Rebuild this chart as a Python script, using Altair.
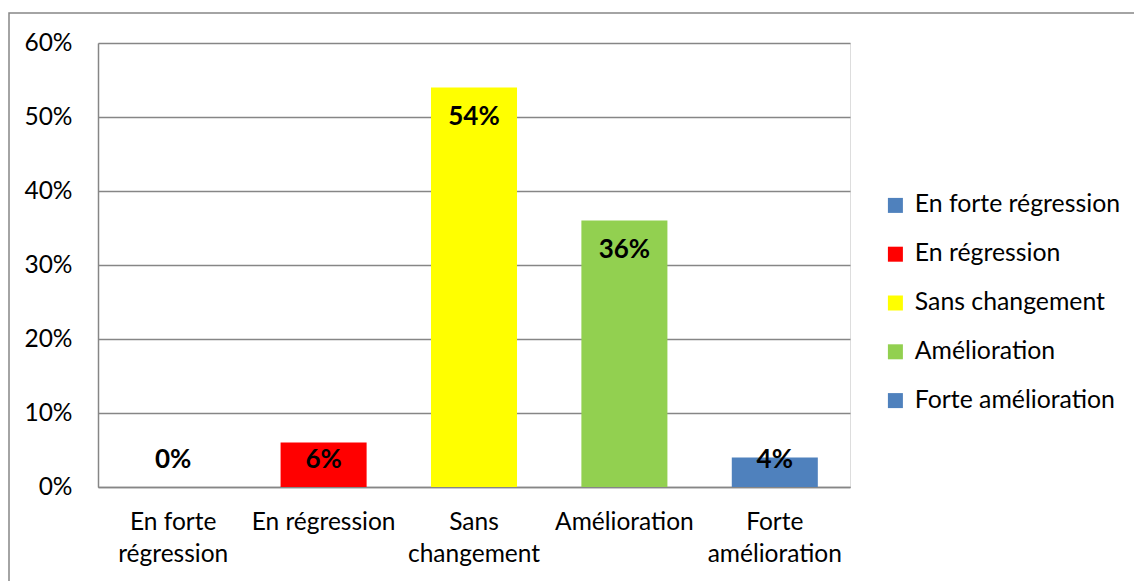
import json
import altair as alt
import pandas as pd

categories = ["En forte régression", "En régression", "Sans changement", "Amélioration", "Forte amélioration"]
values = [0.0, 0.06, 0.54, 0.36, 0.04]
axis_lines = [["En forte", "régression"], ["En régression"], ["Sans", "changement"], ["Amélioration"], ["Forte", "amélioration"]]
colors = ["#4F81BD", "#FF0000", "#FFFF00", "#92D050", "#4F81BD"]
y_ticks = [0, 0.1, 0.2, 0.3, 0.4, 0.5, 0.6]

FONT = "Lato"
df = pd.DataFrame({"cat": categories, "val": values})

expr = "''"
for c, lines in reversed(list(zip(categories, axis_lines))):
    expr = f"datum.value == {json.dumps(c)} ? {json.dumps(lines)} : ({expr})"

x_enc = alt.X("cat:N", sort=categories, title=None,
              scale=alt.Scale(paddingInner=0.428, paddingOuter=0.214),
              axis=alt.Axis(labelExpr=expr, labelAngle=0, labelFont=FONT, labelFontSize=24.5,
                            labelColor="#000000", labelLineHeight=32, labelPadding=23,
                            labelBaseline="top", ticks=False, domainColor="#868686",
                            domainWidth=1.5, grid=False, labelLimit=300))

bars = alt.Chart(df).mark_bar().encode(
    x=x_enc,
    y=alt.Y("val:Q", title=None, scale=alt.Scale(domain=[0, 0.6]),
            axis=alt.Axis(values=y_ticks, format=".0%", labelFont=FONT, labelFontSize=24.5,
                          labelColor="#000000", labelPadding=26, ticks=False,
                          domainColor="#868686", domainWidth=1.5, gridColor="#868686",
                          gridWidth=1.5)),
    color=alt.Color("cat:N", sort=categories, title=None,
                    scale=alt.Scale(domain=categories, range=colors),
                    legend=alt.Legend(orient="none", legendX=785, legendY=150, padding=0,
                                      symbolType="square", symbolSize=225, symbolStrokeWidth=0,
                                      labelFont=FONT, labelFontSize=24.8, labelColor="#000000",
                                      rowPadding=22.8, labelOffset=7, labelLimit=400)),
)

labels = alt.Chart(df).transform_calculate(
    pos="max(datum.val - 0.04, 0.036)",
    txt="format(datum.val, '.0%')"
).mark_text(font=FONT, fontSize=26, fontWeight="bold", color="#000000", baseline="middle").encode(
    x=alt.X("cat:N", sort=categories),
    y=alt.Y("pos:Q"),
    text="txt:N",
)

border = alt.Chart(pd.DataFrame({"a": [0]})).mark_rect(fill=None, stroke="#868686", strokeWidth=1.5).encode(
    x=alt.value(-89), x2=alt.value(1134 - 98 + 10), y=alt.value(-30), y2=alt.value(581 - 43 + 10)
)

chart = alt.layer(border, bars, labels).properties(
    width=752, height=444,
    autosize=alt.AutoSizeParams(type="none"),
    padding={"left": 98, "top": 43, "right": 284, "bottom": 94},
).configure_view(stroke=None).configure(background="white")

chart.save("out.html", embed_options={"renderer": "svg", "actions": False})
